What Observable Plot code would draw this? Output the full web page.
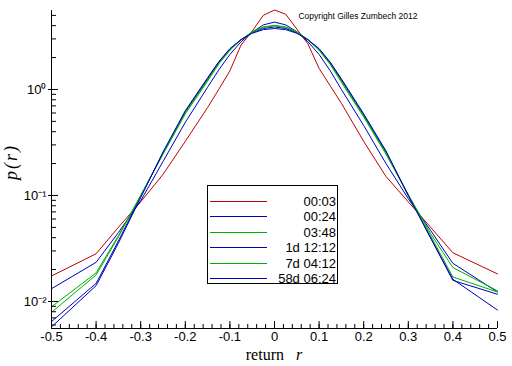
<!DOCTYPE html>
<html>
<head>
<meta charset="utf-8">
<script src="https://cdn.jsdelivr.net/npm/d3@7"></script>
<script src="https://cdn.jsdelivr.net/npm/@observablehq/plot@0.6"></script>
<style>
  body { margin: 0; background: #fff; }
  #wrap { position: relative; width: 512px; height: 366px; font-family: "Liberation Sans", Arial, sans-serif; }
  #legend { position: absolute; left: 207px; top: 185px; width: 131px; height: 99px; border: 1px solid #000; background: #fff; box-sizing: border-box; }
  .row { position: absolute; left: 1px; width: 127px; height: 15px; }
  .row svg { position: absolute; left: 0; top: 0; }
  .row span { position: absolute; right: 0; top: 0; font-size: 13px; line-height: 15px; color: #000; }
</style>
</head>
<body>
<div id="wrap"></div>
<script>
// ---- data ----
const returns = [-0.5, -0.4, -0.35, -0.3, -0.25, -0.2, -0.15, -0.125, -0.1, -0.075, -0.05, -0.025, 0,
                 0.025, 0.05, 0.075, 0.1, 0.125, 0.15, 0.2, 0.25, 0.3, 0.35, 0.4, 0.5];
const seriesNames = ["00:03", "00:24", "03:48", "1d 12:12", "7d 04:12", "58d 06:24"];
const seriesColors = ["#c00000", "#0000c0", "#00b000", "#0000c0", "#00b000", "#0000c0"];

const p_00_03 = [0.0174, 0.0282, 0.0501, 0.0871, 0.158, 0.324, 0.676, 1.00, 1.50, 2.63, 3.55, 5.01, 5.62,
                 5.13, 3.72, 2.69, 1.58, 1.08, 0.741, 0.324, 0.151, 0.0871, 0.0501, 0.0288, 0.0182];
const p_00_24 = [0.0132, 0.0234, 0.0447, 0.0891, 0.209, 0.490, 1.05, 1.53, 2.14, 2.82, 3.47, 4.07, 4.32,
                 4.07, 3.51, 2.82, 2.14, 1.50, 1.00, 0.457, 0.200, 0.0933, 0.0468, 0.0229, 0.0123];
const p_03_48 = [0.0089, 0.0186, 0.0417, 0.100, 0.245, 0.589, 1.20, 1.74, 2.34, 2.95, 3.51, 3.89, 4.03,
                 3.89, 3.51, 2.95, 2.34, 1.72, 1.17, 0.550, 0.245, 0.102, 0.0437, 0.0209, 0.0126];
const p_1d_12_12 = [0.00646, 0.0148, 0.0372, 0.0977, 0.251, 0.617, 1.26, 1.80, 2.40, 2.95, 3.43, 3.76, 3.89,
                 3.76, 3.43, 2.95, 2.40, 1.78, 1.23, 0.575, 0.257, 0.100, 0.0398, 0.0158, 0.0117];
const p_7d_04_12 = [0.0079, 0.0178, 0.0407, 0.100, 0.251, 0.603, 1.23, 1.77, 2.37, 2.95, 3.47, 3.85, 3.98,
                 3.85, 3.47, 2.95, 2.37, 1.75, 1.20, 0.562, 0.251, 0.100, 0.0417, 0.0170, 0.0123];
const p_58d_06_24 = [0.00575, 0.0141, 0.0355, 0.0955, 0.257, 0.631, 1.29, 1.83, 2.43, 2.95, 3.39, 3.67, 3.76,
                 3.67, 3.39, 2.95, 2.43, 1.81, 1.26, 0.589, 0.263, 0.100, 0.0398, 0.0162, 0.0083];

const xMajorTicks = [-0.5, -0.4, -0.3, -0.2, -0.1, 0, 0.1, 0.2, 0.3, 0.4, 0.5];
const yMajorTicks = [0.01, 0.1, 1];
const yTickLabels = ["10\u207B\u00B2", "10\u207B\u00B9", "10\u2070"];
const xTitle = "return";
const xTitleVar = "r";
const yTitle = "p(r)";
const copyright = "Copyright Gilles Zumbech 2012";

const yDomain = [0.00556, 5.56];

// ---- build table ----
const allSeries = [p_00_03, p_00_24, p_03_48, p_1d_12_12, p_7d_04_12, p_58d_06_24];
const table = [];
seriesNames.forEach((name, i) => {
  returns.forEach((r, j) => table.push({series: name, r, p: allSeries[i][j]}));
});

const xMinorTicks = d3.range(-50, 51, 2).map(v => v / 100);
const yMinorTicks = [];
for (let e = -3; e <= 0; e++) for (let m = 2; m <= 9; m++) {
  const v = m * Math.pow(10, e);
  if (v >= yDomain[0] && v <= yDomain[1]) yMinorTicks.push(v);
}

const fmtX = d => d === 0 ? "0" : String(d);

const chart = Plot.plot({
  width: 512,
  height: 366,
  marginLeft: 51,
  marginRight: 15,
  marginTop: 10,
  marginBottom: 38,
  style: {fontFamily: "'Liberation Sans', Arial, sans-serif", fontSize: "13px", background: "#fff", overflow: "visible"},
  x: {domain: [-0.5, 0.5]},
  y: {type: "log", domain: yDomain},
  color: {domain: seriesNames, range: seriesColors},
  marks: [
    Plot.line(table, {x: "r", y: "p", z: "series", stroke: "series", strokeWidth: 1, clip: false}),
    Plot.ruleX([-0.5], {stroke: "#000", strokeWidth: 1}),
    Plot.ruleY([yDomain[0]], {stroke: "#000", strokeWidth: 1}),
    Plot.axisX({ticks: xMinorTicks, tickSize: -4, text: null, label: null, stroke: "#000"}),
    Plot.axisX({ticks: xMajorTicks, tickSize: -7, text: null, label: null, stroke: "#000"}),
    Plot.axisX({ticks: xMajorTicks, tickSize: 0, tickPadding: 3, tickFormat: fmtX, label: null, fill: "#000", fontSize: 13}),
    Plot.axisY({ticks: yMinorTicks, tickSize: -5, text: null, label: null, stroke: "#000"}),
    Plot.axisY({ticks: yMajorTicks, tickSize: -7, text: null, label: null, stroke: "#000"}),
    Plot.axisY({ticks: yMajorTicks, tickSize: 3, text: null, label: null, stroke: "#000"}),
    Plot.axisY({ticks: yMajorTicks, tickSize: 0, tickPadding: 5, tickFormat: d => yTickLabels[yMajorTicks.indexOf(d)], label: null, fill: "#000", fontSize: 13})
  ]
});

const wrap = document.getElementById("wrap");
wrap.appendChild(chart);

const svg = d3.select(chart);
// x-axis title
const xt = svg.append("text")
  .attr("x", 274).attr("y", 360)
  .attr("text-anchor", "middle")
  .style("font-family", "'Liberation Serif', 'Times New Roman', serif")
  .style("font-size", "16px").attr("fill", "#000");
xt.append("tspan").text(xTitle);
xt.append("tspan").attr("dx", 12).style("font-style", "italic").text(xTitleVar);

// y-axis title
svg.append("text")
  .attr("transform", "translate(17,162) rotate(-90)")
  .attr("text-anchor", "middle")
  .style("font-family", "'Liberation Serif', 'Times New Roman', serif")
  .style("font-size", "18px").style("font-style", "italic")
  .style("letter-spacing", "2px")
  .attr("fill", "#000").text(yTitle);

// copyright
svg.append("text")
  .attr("x", 358).attr("y", 19)
  .style("font-family", "'Liberation Sans', Arial, sans-serif")
  .style("font-size", "8.5px").attr("fill", "#000").text(copyright);

// legend
const legend = document.createElement("div");
legend.id = "legend";
seriesNames.forEach((name, i) => {
  const row = document.createElement("div");
  row.className = "row";
  row.style.top = (8 + i * 15.4) + "px";
  row.innerHTML = `<svg width="60" height="15"><line x1="1" x2="58" y1="7.5" y2="7.5" stroke="${seriesColors[i]}" stroke-width="1"/></svg><span>${name}</span>`;
  legend.appendChild(row);
});
wrap.appendChild(legend);
</script>
</body>
</html>
